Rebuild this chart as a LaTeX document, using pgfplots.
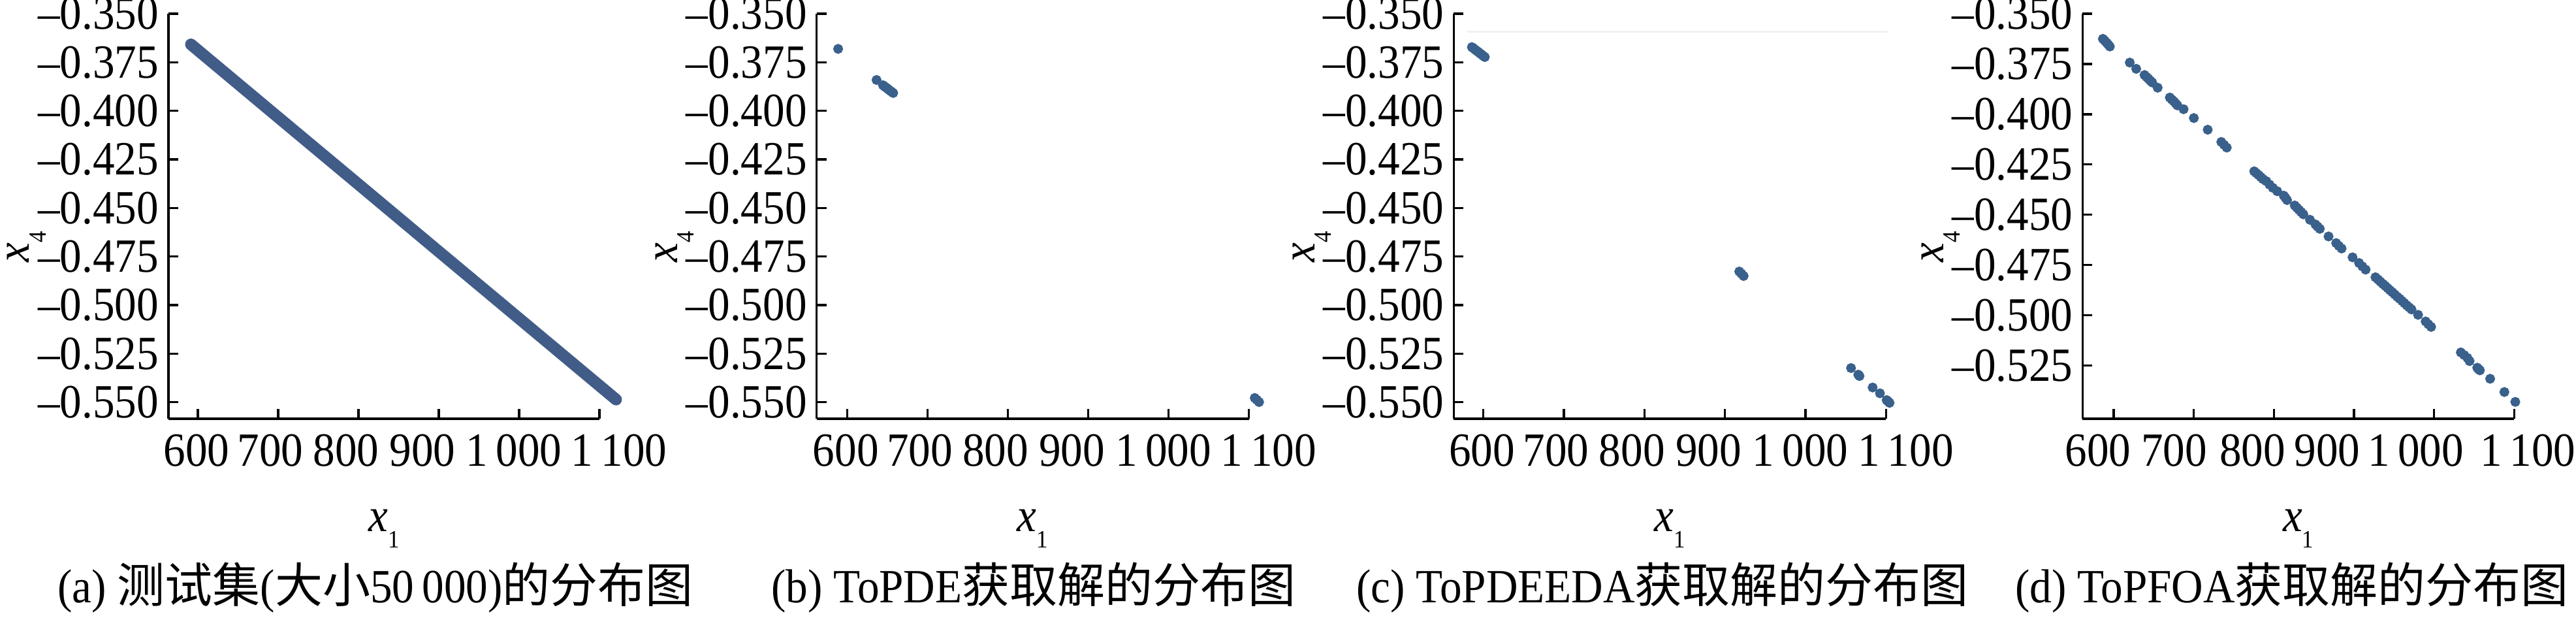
\documentclass[border=0pt]{standalone}
\usepackage{fontspec}
\setmainfont{Liberation Serif}[FakeStretch=0.92]
\newfontfamily\cjk{Noto Sans CJK SC}
\usepackage{pgfplots}
\pgfplotsset{compat=1.18}
\definecolor{lineA}{RGB}{66,92,136}
\definecolor{dotC}{RGB}{58,96,140}
\newcommand\tfont{\fontsize{7.3}{8}\selectfont}
\pgfplotsset{
  panel/.style={
    scale only axis, width=66.1pt, height=62pt, anchor=south west,
    axis x line*=bottom, axis y line*=left,
    axis line style={line width=0.34pt,-},
    tick style={line width=0.34pt, black},
    major tick length=1.5pt, tick align=inside,
    xmax=1100, ymax=-0.35, clip=false,
    xtick={600,700,800,900,1000,1100},
    xticklabels={{\kern-0.4pt 600},{\kern-2.4pt 700},{\kern-3.8pt 800},{\kern-5pt 900},{\kern-1.6pt 1\,000},{\kern6pt 1\,100}},
    tick label style={font=\tfont},
    xticklabel style={anchor=north, inner sep=0pt, yshift=-2.2pt},
    yticklabel style={anchor=east, inner sep=0pt, xshift=-1.3pt},
    xlabel={\itshape x\raisebox{-2.5pt}{\upshape\fontsize{3.8}{4}\selectfont 1}},
    ylabel={\itshape x\raisebox{-2.5pt}{\upshape\fontsize{3.8}{4}\selectfont 4}},
    every axis x label/.style={at={(axis description cs:0.5,0)}, anchor=base, yshift=-17.2pt, font=\tfont},
    every axis y label/.style={at={(axis description cs:0,0.424)}, xshift=-21.3pt, rotate=90, anchor=base, font=\tfont},
  },
  yfull/.style={ymin=-0.5585,
    ytick={-0.55,-0.525,-0.5,-0.475,-0.45,-0.425,-0.4,-0.375,-0.35},
    yticklabels={\textendash0.550,\textendash0.525,\textendash0.500,\textendash0.475,\textendash0.450,\textendash0.425,\textendash0.400,\textendash0.375,\textendash0.350}},
  dots/.style={only marks, mark=*, mark size=0.55pt, color=dotC, mark options={draw=none, fill=dotC}},
}
\begin{document}
\begin{tikzpicture}
\path[use as bounding box] (0,0) rectangle (394.5pt,94.5pt);
% (a)
\begin{axis}[panel, yfull, at={(25.8pt,30.4pt)}, xmin=563.5, width=66pt]
\addplot[color=lineA, line width=1.8pt, line cap=round] coordinates {
(591.5,-0.3658) (700,-0.4033) (800,-0.4378) (900,-0.4724) (1000,-0.5069) (1120.7,-0.5486)};
\end{axis}
% (b)
\begin{axis}[panel, yfull, at={(125.06pt,30.4pt)}, xmin=562, width=66.2pt]
\addplot[dots] coordinates {
(588.8,-0.3681) (636.6,-0.3841)
(644.6,-0.3868) (646.7,-0.3875) (648.8,-0.3881) (650.9,-0.3888) (653,-0.3895) (655.1,-0.3901) (657.3,-0.3908)
(1107.3,-0.5478) (1110,-0.5488) (1112.7,-0.5499)};
\end{axis}
% (c)
\begin{axis}[panel, yfull, at={(222.64pt,30.4pt)}, xmin=563.5, width=66.2pt]
\addplot[black!6, line width=0.25pt] coordinates {(580,-0.3592) (1102,-0.3592)};
\addplot[dots] coordinates {
(586,-0.3672) (588,-0.3678) (590,-0.3685) (592,-0.3691) (594,-0.3697) (596,-0.3704) (598,-0.3710) (600,-0.3717) (602,-0.3723)
(917.8,-0.4827) (920.5,-0.4838) (923.2,-0.4850)
(1056.5,-0.5324) (1065.5,-0.5358) (1067,-0.5365)
(1083.3,-0.5424) (1092.4,-0.5454)
(1100.7,-0.5489) (1102.5,-0.5496) (1104.3,-0.5503)};
\end{axis}
% (d)
\begin{axis}[panel, at={(318.93pt,30.4pt)}, xmin=561, width=66.1pt, ymin=-0.5515,
  xticklabels={{\kern-4.8pt 600},{\kern-6pt 700},{\kern-6.6pt 800},{\kern-8.2pt 900},{\kern-5.6pt 1\,000},{\kern4.2pt 1\,100}},
  ytick={-0.525,-0.5,-0.475,-0.45,-0.425,-0.4,-0.375,-0.35},
  yticklabels={\textendash0.525,\textendash0.500,\textendash0.475,\textendash0.450,\textendash0.425,\textendash0.400,\textendash0.375,\textendash0.350}]
\addplot[dots] coordinates {
(586.4,-0.3625) (588.7,-0.3634) (591,-0.3644) (593,-0.3653) (595.1,-0.3663)
(620.0,-0.3743) (628.0,-0.3774)
(638.4,-0.3805) (641,-0.3815) (643.2,-0.3823) (645.6,-0.3833) (648,-0.3842)
(654.8,-0.3868)
(670,-0.3917) (672.5,-0.3927) (675,-0.3936) (677.3,-0.3946) (679.5,-0.3956)
(687.2,-0.3975) (700.0,-0.4019) (717.3,-0.4077)
(734.3,-0.4138) (737.7,-0.4152) (741.1,-0.4166)
(775.4,-0.4284) (778,-0.4293) (781,-0.4303) (783.7,-0.4313) (786.4,-0.4323)
(790.5,-0.4333) (794.5,-0.4350) (798.6,-0.4366)
(804.1,-0.4383)
(812.3,-0.4405) (814.4,-0.4416) (816.4,-0.4427)
(826,-0.4454) (828.7,-0.4465) (831.4,-0.4476) (834.1,-0.4487) (836.8,-0.4498)
(845.0,-0.4525)
(851.8,-0.4548) (854.5,-0.4559) (857.3,-0.4570)
(868.2,-0.4608)
(877.7,-0.4641) (881.1,-0.4655) (884.5,-0.4668)
(898.2,-0.4712)
(906.3,-0.4740) (910.4,-0.4757) (914.5,-0.4773)
(926.8,-0.4811) (930,-0.4822) (933,-0.4833) (936,-0.4844) (939,-0.4854) (942,-0.4865) (945,-0.4876)
(948,-0.4886) (951,-0.4897) (954,-0.4908) (957,-0.4918) (960,-0.4929) (963,-0.4940) (966,-0.4951) (969,-0.4961) (971.8,-0.4971)
(980.0,-0.4998)
(989.5,-0.5031) (992.9,-0.5045) (996.3,-0.5058)
(1033.4,-0.5185) (1037.5,-0.5198) (1041.6,-0.5212) (1044.3,-0.5228)
(1053.9,-0.5261) (1055.5,-0.5268) (1057.2,-0.5274)
(1070.0,-0.5316) (1087.8,-0.5382) (1101.4,-0.5431)};
\end{axis}
% captions
\node[anchor=base, font=\tfont, inner sep=0pt] at (57.5pt,2.3pt) {(a) {\cjk 测试集}({\cjk 大小}50\,000){\cjk 的分布图}};
\node[anchor=base, font=\tfont, inner sep=0pt] at (158.3pt,2.3pt) {(b) ToPDE{\cjk 获取解的分布图}};
\node[anchor=base, font=\tfont, inner sep=0pt] at (254.6pt,2.3pt) {(c) ToPDEEDA{\cjk 获取解的分布图}};
\node[anchor=base, font=\tfont, inner sep=0pt] at (351.0pt,2.3pt) {(d) ToPFOA{\cjk 获取解的分布图}};
\end{tikzpicture}
\end{document}
